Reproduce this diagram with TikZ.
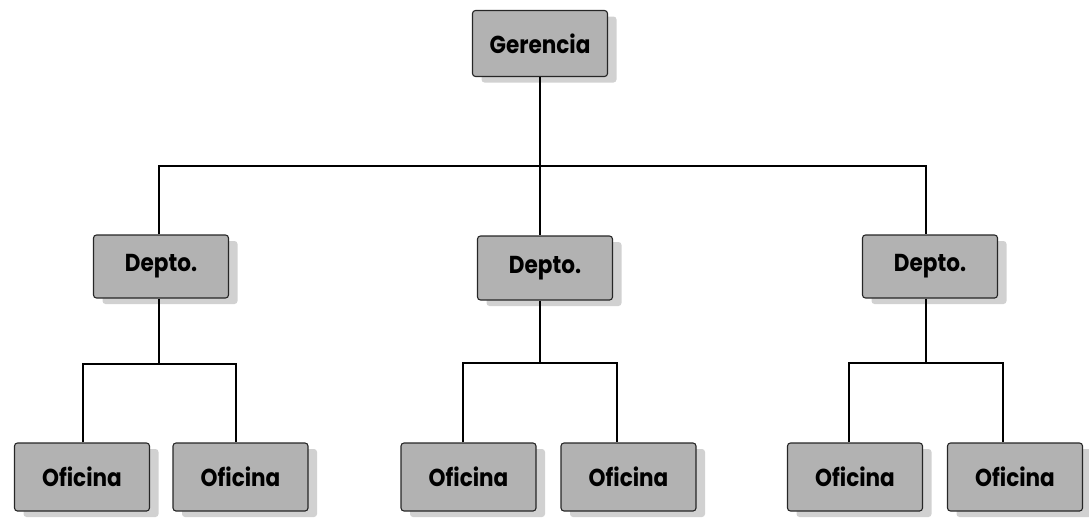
\documentclass[tikz,border=0pt]{standalone}
\usepackage{fontspec}
\newfontfamily\boxfont{Poppins}[FakeStretch=0.88]
\usetikzlibrary{shadows}
\tikzset{
  unitbox/.style={draw=black!85, line width=1.1pt, rounded corners=3pt,
    fill=black!30, minimum width=135pt, minimum height=66pt,
    inner sep=0pt, font=\boxfont\bfseries\fontsize{24.5}{28}\selectfont,
    drop shadow={shadow xshift=9pt, shadow yshift=-6pt, fill=black!18, opacity=1}},
  link/.style={draw=black, line width=1.8pt}
}
\begin{document}
\begin{tikzpicture}[x=1pt, y=-1pt]
  \useasboundingbox (0,0) rectangle (1089,517);

  % top level
  \node[unitbox] (ger) at (540,43.5) {Gerencia};

  % departments
  \node[unitbox, minimum height=63pt] (depL) at (161,266.5) {Depto.};
  \node[unitbox, minimum height=64pt] (depM) at (545,268) {Depto.};
  \node[unitbox, minimum height=63pt] (depR) at (930,266.5) {Depto.};

  % offices
  \node[unitbox, minimum height=68pt] (l1) at (82,477) {Oficina};
  \node[unitbox, minimum height=68pt] (l2) at (240.5,477) {Oficina};
  \node[unitbox, minimum height=68pt] (m1) at (468.5,477) {Oficina};
  \node[unitbox, minimum height=68pt] (m2) at (628.5,477) {Oficina};
  \node[unitbox, minimum height=68pt] (r1) at (855,477) {Oficina};
  \node[unitbox, minimum height=68pt] (r2) at (1015,477) {Oficina};

  % branch points of the buses
  \coordinate (busTop) at (540,166);
  \coordinate (busL) at (159,364);
  \coordinate (busM) at (540,363);
  \coordinate (busR) at (926,363);

  % top bus
  \draw[link] (ger.south) -- (depM.north -| ger.south);
  \draw[link] (depL.north -| busL) |- (busTop) -| (depR.north -| busR);

  % department buses
  \draw[link] (depL.south -| busL) -- (busL);
  \draw[link] ([xshift=1pt]l1.north) |- (busL) -| ([xshift=-4.5pt]l2.north);
  \draw[link] (depM.south -| busM) -- (busM);
  \draw[link] ([xshift=-5.5pt]m1.north) |- (busM) -| ([xshift=-11.5pt]m2.north);
  \draw[link] (depR.south -| busR) -- (busR);
  \draw[link] ([xshift=-6pt]r1.north) |- (busR) -| ([xshift=-12pt]r2.north);
\end{tikzpicture}
\end{document}
